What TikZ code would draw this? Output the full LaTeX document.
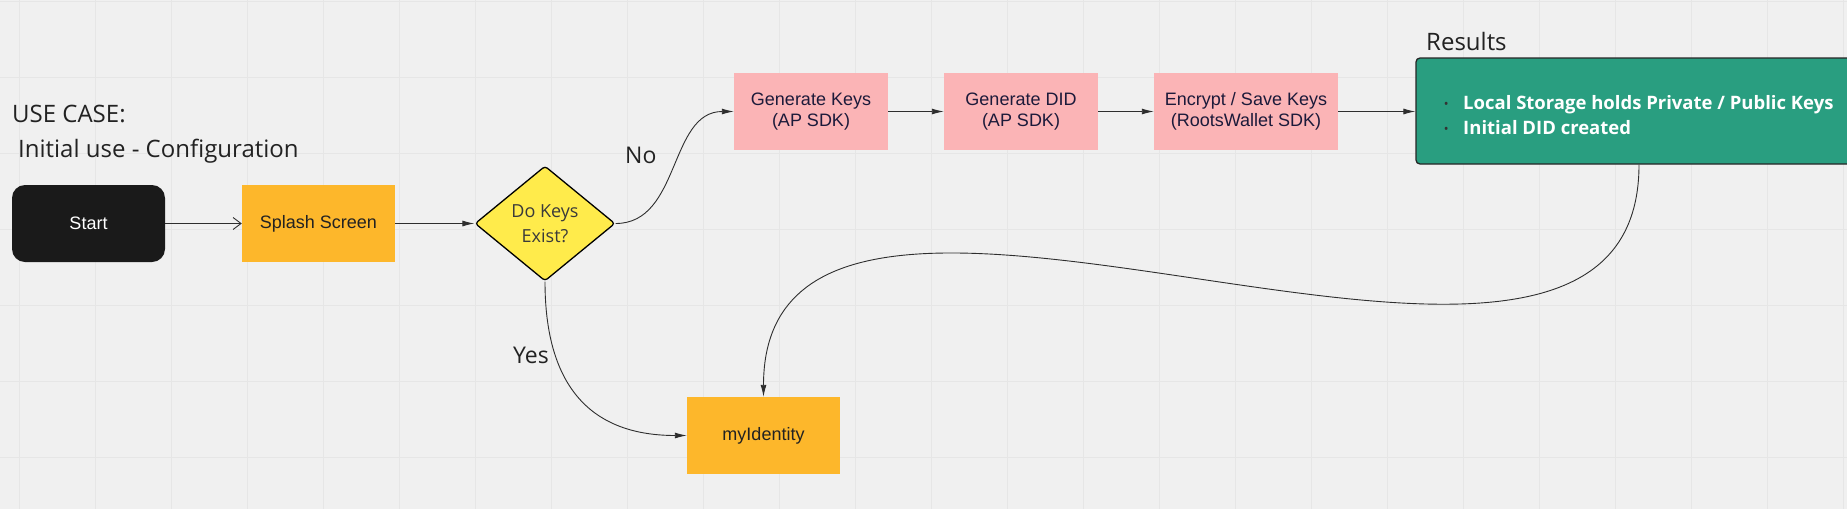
\documentclass[tikz,border=0pt]{standalone}
\usepackage{fontspec}
\setmainfont{Open Sans}
\newfontfamily\arialf{Liberation Sans}
\usetikzlibrary{arrows.meta,shapes.geometric}
\definecolor{bgc}{HTML}{F0F0F0}
\definecolor{gridc}{HTML}{E6E6E6}
\definecolor{startc}{HTML}{1A1A1A}
\definecolor{orangec}{HTML}{FDB72B}
\definecolor{pinkc}{HTML}{FBB4B6}
\definecolor{yellowc}{HTML}{FFEB4B}
\definecolor{tealc}{HTML}{299E80}
\definecolor{navyc}{HTML}{1C1A3A}
\definecolor{labelc}{HTML}{222222}
\definecolor{diamtc}{HTML}{3A3A3A}
\definecolor{linec}{HTML}{2E2E2E}
\definecolor{bulletc}{HTML}{333333}
\tikzset{
  boxnode/.style={rectangle, inner sep=0pt, minimum height=77pt, align=center,
    font=\arialf\fontsize{18}{21}\selectfont, text=navyc},
  orangebox/.style={boxnode, fill=orangec, text=labelc, minimum width=153pt},
  pinkbox/.style={boxnode, fill=pinkc},
  lbl/.style={inner sep=0pt, anchor=base west, text=labelc},
  conn/.style={draw=linec, line width=0.9pt, -{Latex[length=12pt,width=6pt]}},
}
\begin{document}
\begin{tikzpicture}[x=1pt,y=-1pt]
\useasboundingbox (0,0) rectangle (1847,509);
\clip (0,0) rectangle (1847,509);
\fill[bgc] (0,0) rectangle (1847,509);
\foreach \i in {0,...,24} {\draw[gridc, line width=1pt] (19+76*\i,0) -- (19+76*\i,509);}
\foreach \j in {0,...,6} {\draw[gridc, line width=1pt] (0,1+76*\j) -- (1847,1+76*\j);}

% titles
\node[lbl, font=\fontsize{24}{28}\selectfont] (uc) at (12,122) {USE CASE:};
\node[lbl, font=\fontsize{24}{28}\selectfont] (iu) at (18,157) {Initial use - Configuration};
\node[lbl, font=\fontsize{24}{28}\selectfont] (resl) at (1426,50) {Results};

% nodes
\node[boxnode, fill=startc, text=white, minimum width=153pt, rounded corners=13pt] (start) at (88.5,223.5) {Start};
\node[orangebox] (splash) at (318.5,223.5) {Splash Screen};
\node[diamond, draw=black, line width=1.3pt, fill=yellowc, rounded corners=3pt,
      minimum width=140pt, minimum height=115pt, inner sep=0pt, align=center,
      text=diamtc, font=\fontsize{18}{25}\selectfont] (dk) at (545,223.5) {Do Keys\\Exist?};
\node[pinkbox, minimum width=154pt] (gk) at (811,111.5) {Generate Keys\\(AP SDK)};
\node[pinkbox, minimum width=154pt] (gd) at (1021,111.5) {Generate DID\\(AP SDK)};
\node[pinkbox, minimum width=184pt] (enc) at (1246,111.5) {Encrypt / Save Keys\\(RootsWallet SDK)};
\node[rectangle, draw=black!85, line width=1.3pt, fill=tealc, rounded corners=4pt,
      minimum width=446pt, minimum height=106pt, inner sep=0pt, text=white,
      font=\bfseries\fontsize{18.5}{25}\selectfont] (res) at (1639,111)
  {\raisebox{-6pt}[\height][\depth]{\begin{tabular}{@{}l@{\hspace{15pt}}l@{}}
   \textcolor{bulletc}{\fontsize{10}{10}\selectfont\raisebox{2pt}{•}} & Local Storage holds Private / Public Keys\\
   \textcolor{bulletc}{\fontsize{10}{10}\selectfont\raisebox{2pt}{•}} & Initial DID created
   \end{tabular}}\hspace{-3pt}};
\node[orangebox] (myid) at (763.5,435.5) {myIdentity};

% edge labels
\node[lbl, font=\fontsize{23}{27}\selectfont] (nol) at (625,163) {No};
\node[lbl, font=\fontsize{23}{27}\selectfont] (yesl) at (513,363) {Yes};

% connectors
\draw[draw=linec, line width=0.9pt, -{Straight Barb[length=8pt,width=12pt]}] (start) -- (splash);
\draw[conn] (splash) -- (dk);
\draw[conn] (dk.east) .. controls +(65,0) and +(-65,0) .. (gk.west);
\draw[conn] (gk) -- (gd);
\draw[conn] (gd) -- (enc);
\draw[conn] (enc) -- (res.west |- enc);
\draw[conn] (dk.south) .. controls +(0,100) and +(-100,0) .. (myid.west);
\draw[conn] (res.south) .. controls +(0,356) and +(0,-356) .. (myid.north);
\end{tikzpicture}
\end{document}
